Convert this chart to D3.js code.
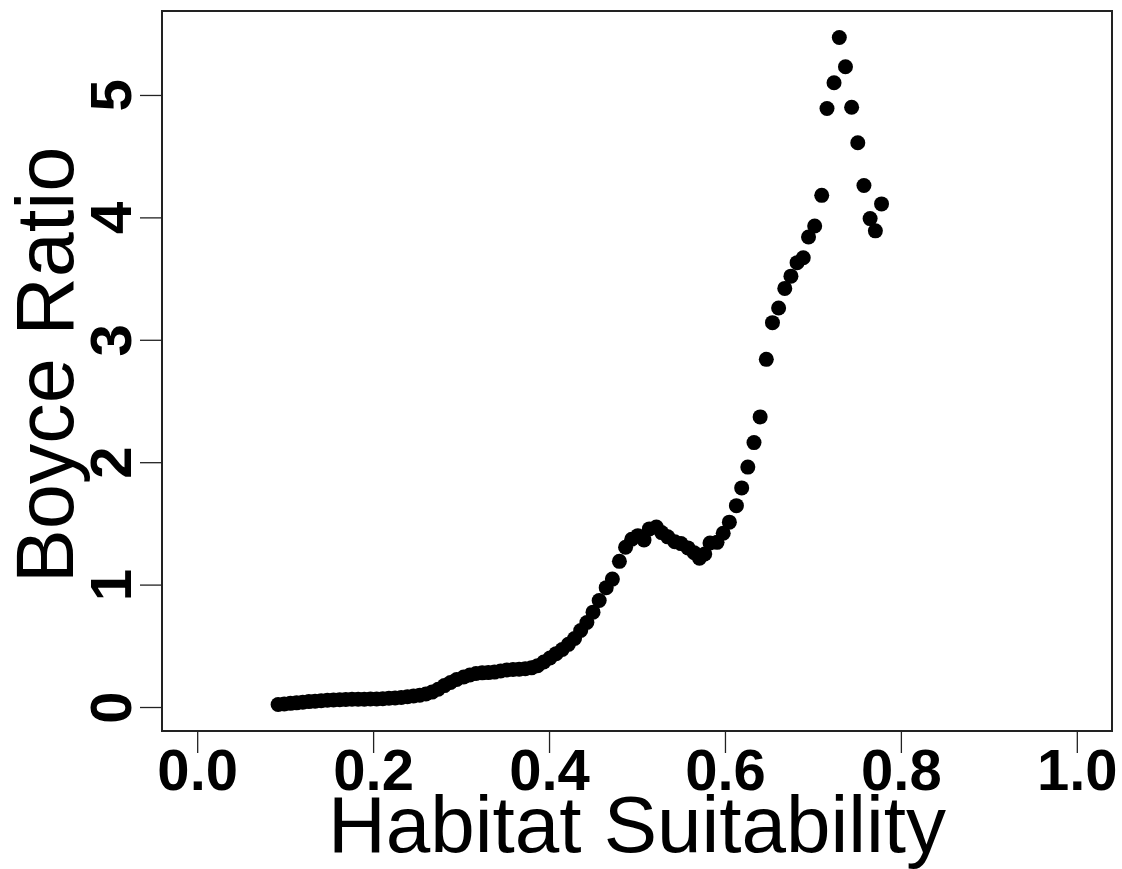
<!DOCTYPE html>
<html><head><meta charset="utf-8">
<script src="https://cdn.jsdelivr.net/npm/d3@7"></script>
<style>body{margin:0;background:#fff}svg{display:block}</style>
</head><body>
<svg id="chart" width="1122" height="869"></svg>
<script>
// ---- data ----
const suitability = [
  0.092,0.099,0.106,0.113,0.120,0.127,0.134,0.141,0.148,0.155,
  0.162,0.169,0.176,0.183,0.190,0.197,0.204,0.211,0.218,0.225,
  0.232,0.239,0.246,0.253,0.260,0.267,0.274,0.281,0.288,0.295,
  0.303,0.310,0.317,0.324,0.331,0.338,0.345,0.352,0.359,0.366,
  0.373,0.380,0.387,0.394,0.401,0.408,0.415,0.422,0.429,0.436,
  0.443,0.450,0.457,0.465,0.472,0.480,0.487,0.494,0.501,0.508,
  0.514,0.522,0.528,0.535,0.543,0.550,0.558,0.565,0.571,0.577,
  0.583,0.591,0.598,0.605,0.613,0.619,0.626,0.633,0.640,0.647,
  0.654,0.661,0.668,0.675,0.682,0.689,0.695,0.702,0.710,0.716,
  0.724,0.730,0.737,0.744,0.751,0.758,0.765,0.771,0.778
];
const boyceRatio = [
  0.020,0.025,0.030,0.034,0.039,0.044,0.048,0.052,0.055,0.057,
  0.060,0.062,0.063,0.064,0.064,0.065,0.066,0.068,0.071,0.074,
  0.078,0.084,0.090,0.097,0.106,0.122,0.145,0.175,0.200,0.225,
  0.245,0.262,0.274,0.279,0.281,0.285,0.294,0.303,0.307,0.309,
  0.312,0.320,0.338,0.368,0.400,0.436,0.470,0.512,0.560,0.625,
  0.690,0.775,0.870,0.975,1.045,1.190,1.305,1.370,1.400,1.365,
  1.455,1.470,1.425,1.390,1.350,1.335,1.300,1.260,1.215,1.250,
  1.340,1.345,1.420,1.510,1.645,1.790,1.960,2.160,2.370,2.840,
  3.140,3.260,3.420,3.520,3.630,3.670,3.840,3.930,4.180,4.890,
  5.100,5.470,5.230,4.900,4.610,4.260,3.990,3.890,4.110
];
const xTicks = [0, 0.2, 0.4, 0.6, 0.8, 1.0];
const xTickLabels = ["0.0", "0.2", "0.4", "0.6", "0.8", "1.0"];
const yTicks = [0, 1, 2, 3, 4, 5];
const yTickLabels = ["0", "1", "2", "3", "4", "5"];
const xTitle = "Habitat Suitability";
const yTitle = "Boyce Ratio";

// ---- layout ----
const FONT = "'Liberation Sans', Arial, Helvetica, sans-serif";
const box = {left: 162, right: 1112, top: 11, bottom: 731};
const svg = d3.select("#chart");

const x = d3.scaleLinear().domain([-0.04, 1.04]).range([box.left, box.right]);
const y = d3.scaleLinear().domain([-0.196, 5.686]).range([box.bottom, box.top]);

// points
svg.append("g").selectAll("circle")
  .data(suitability.map((s, i) => [s, boyceRatio[i]]))
  .join("circle")
  .attr("cx", d => x(d[0]))
  .attr("cy", d => y(d[1]))
  .attr("r", 7.5)
  .attr("fill", "#000");

// box
svg.append("rect")
  .attr("x", box.left).attr("y", box.top)
  .attr("width", box.right - box.left).attr("height", box.bottom - box.top)
  .attr("fill", "none").attr("stroke", "#222").attr("stroke-width", 2);

// x axis
const xAxis = svg.append("g")
  .attr("transform", `translate(0,${box.bottom})`)
  .call(d3.axisBottom(x).tickValues(xTicks)
    .tickFormat((d, i) => xTickLabels[i]).tickSize(22));
xAxis.select(".domain").remove();
xAxis.selectAll(".tick line").attr("stroke", "#222").attr("stroke-width", 1.3);
xAxis.selectAll(".tick text")
  .attr("y", 59).attr("dy", 0)
  .attr("fill", "#000")
  .style("font-family", FONT).style("font-size", "58px").style("font-weight", "bold");

// y axis
const yAxis = svg.append("g")
  .attr("transform", `translate(${box.left},0)`)
  .call(d3.axisLeft(y).tickValues(yTicks)
    .tickFormat((d, i) => yTickLabels[i]).tickSize(22));
yAxis.select(".domain").remove();
yAxis.selectAll(".tick line").attr("stroke", "#222").attr("stroke-width", 1.3);
yAxis.selectAll(".tick text")
  .attr("x", null).attr("dy", 0)
  .attr("transform", "translate(-31,0) rotate(-90)")
  .attr("text-anchor", "middle")
  .attr("fill", "#000")
  .style("font-family", FONT).style("font-size", "58px").style("font-weight", "bold");

// titles
svg.append("text")
  .attr("x", (box.left + box.right) / 2).attr("y", 852)
  .attr("text-anchor", "middle")
  .style("font-family", FONT).style("font-size", "80px")
  .text(xTitle);

svg.append("text")
  .attr("transform", `translate(73,${(box.top + box.bottom) / 2 - 6}) rotate(-90)`)
  .attr("text-anchor", "middle")
  .style("font-family", FONT).style("font-size", "81px")
  .text(yTitle);
</script>
</body></html>
